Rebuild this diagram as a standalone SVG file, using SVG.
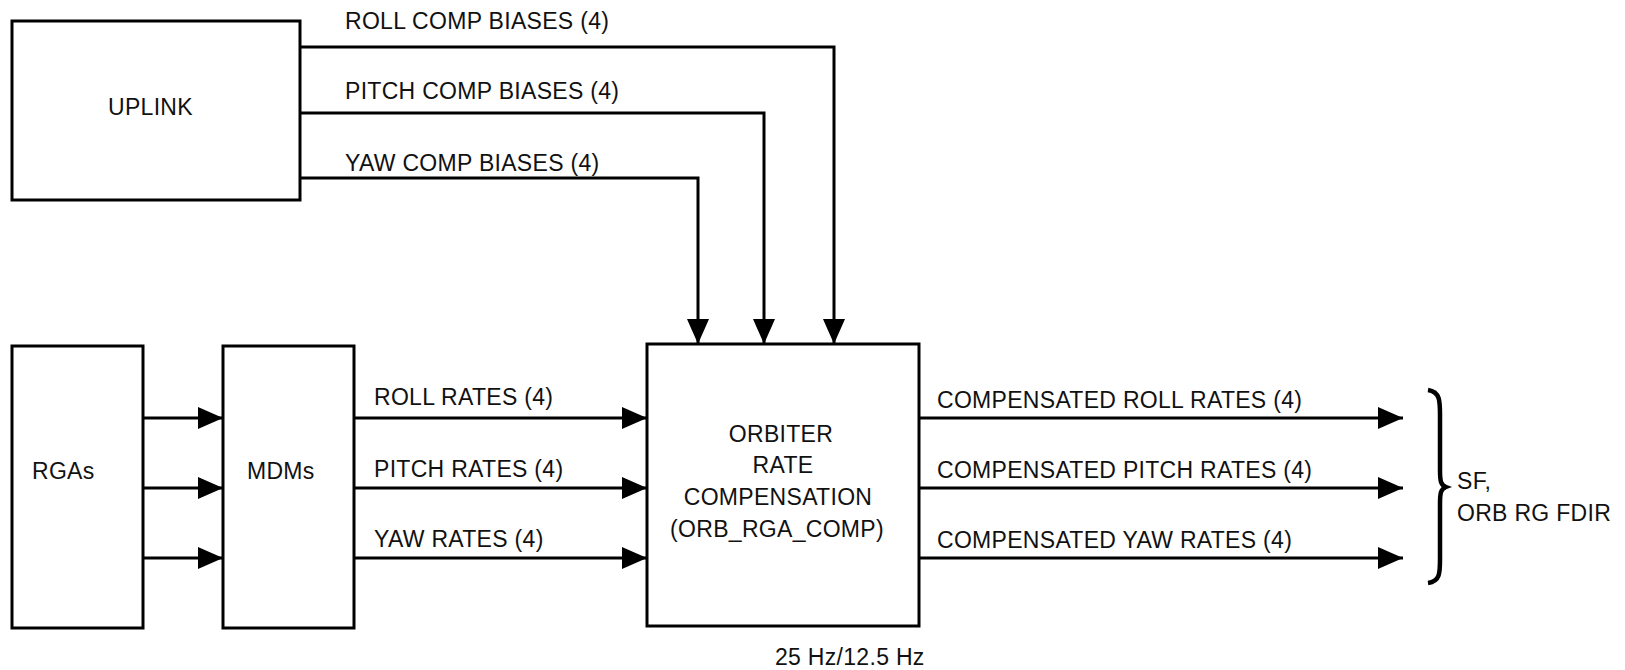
<svg xmlns="http://www.w3.org/2000/svg" width="1625" height="670" viewBox="0 0 1625 670">
  <style>
    .box { fill: #ffffff; stroke: #000000; stroke-width: 3; }
    .lbl { font-family: "Liberation Sans", Arial, sans-serif; font-size: 23px; letter-spacing: 0.3px; fill: #111111; }
    .mid { text-anchor: middle; }
    .wire { fill: none; stroke: #000000; stroke-width: 3; }
  </style>
  <defs>
    <marker id="arrow" markerUnits="userSpaceOnUse" markerWidth="26" markerHeight="24" refX="25" refY="11" orient="auto">
      <path d="M0,0 L25,11 L0,22 Z" fill="#000000"/>
    </marker>
  </defs>
  <rect width="1625" height="670" fill="#ffffff"/>

  <g id="uplink">
    <rect class="box" x="12" y="21" width="288" height="179"/>
    <text class="lbl" x="108" y="115">UPLINK</text>
  </g>
  <g id="rgas">
    <rect class="box" x="12" y="346" width="131" height="282"/>
    <text class="lbl" x="32" y="479">RGAs</text>
  </g>
  <g id="mdms">
    <rect class="box" x="223" y="346" width="131" height="282"/>
    <text class="lbl" x="247" y="479">MDMs</text>
  </g>
  <g id="orb_rga_comp">
    <rect class="box" x="647" y="344" width="272" height="282"/>
    <text class="lbl mid" x="781" y="442">ORBITER</text>
    <text class="lbl mid" x="783" y="473">RATE</text>
    <text class="lbl mid" x="778" y="505">COMPENSATION</text>
    <text class="lbl mid" x="777" y="537">(ORB_RGA_COMP)</text>
    <text class="lbl" x="775" y="665">25 Hz/12.5 Hz</text>
  </g>
  <g id="sf_fdir">
    <path d="M1428,390 C1441,392 1440,402 1440,420 L1440,470 C1440,482 1441,485 1446,487 C1441,489 1440,492 1440,504 L1440,554 C1440,572 1441,581 1428,583" fill="none" stroke="#000000" stroke-width="4.5"/>
    <text class="lbl" x="1457" y="489">SF,</text>
    <text class="lbl" x="1457" y="521">ORB RG FDIR</text>
  </g>

  <g id="connectors">
    <polyline class="wire" points="300,47 834,47 834,344" marker-end="url(#arrow)"/>
    <polyline class="wire" points="300,113 764,113 764,344" marker-end="url(#arrow)"/>
    <polyline class="wire" points="300,178 698,178 698,344" marker-end="url(#arrow)"/>
    <line class="wire" x1="143" y1="418" x2="223" y2="418" marker-end="url(#arrow)"/>
    <line class="wire" x1="143" y1="488" x2="223" y2="488" marker-end="url(#arrow)"/>
    <line class="wire" x1="143" y1="558" x2="223" y2="558" marker-end="url(#arrow)"/>
    <line class="wire" x1="354" y1="418" x2="647" y2="418" marker-end="url(#arrow)"/>
    <line class="wire" x1="354" y1="488" x2="647" y2="488" marker-end="url(#arrow)"/>
    <line class="wire" x1="354" y1="558" x2="647" y2="558" marker-end="url(#arrow)"/>
    <line class="wire" x1="919" y1="418" x2="1403" y2="418" marker-end="url(#arrow)"/>
    <line class="wire" x1="919" y1="488" x2="1403" y2="488" marker-end="url(#arrow)"/>
    <line class="wire" x1="919" y1="558" x2="1403" y2="558" marker-end="url(#arrow)"/>
    <text class="lbl" x="345" y="29">ROLL COMP BIASES (4)</text>
    <text class="lbl" x="345" y="99">PITCH COMP BIASES (4)</text>
    <text class="lbl" x="345" y="171">YAW COMP BIASES (4)</text>
    <text class="lbl" x="374" y="405">ROLL RATES (4)</text>
    <text class="lbl" x="374" y="477">PITCH RATES (4)</text>
    <text class="lbl" x="374" y="547">YAW RATES (4)</text>
    <text class="lbl" x="937" y="408">COMPENSATED ROLL RATES (4)</text>
    <text class="lbl" x="937" y="478">COMPENSATED PITCH RATES (4)</text>
    <text class="lbl" x="937" y="548">COMPENSATED YAW RATES (4)</text>
  </g>
</svg>
